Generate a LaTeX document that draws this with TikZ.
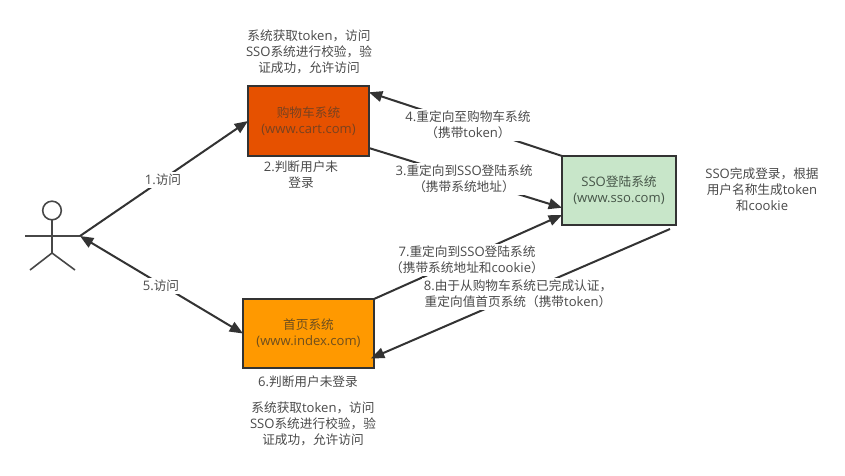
\documentclass[tikz,border=0pt]{standalone}
\usepackage{fontspec}
\setmainfont{Open Sans}
\newfontfamily\cjk[Scale=0.97]{Noto Sans CJK SC}
\newcommand{\Z}[1]{{\cjk #1}}
\usetikzlibrary{arrows.meta,calc}
\definecolor{ink}{HTML}{333333}
\definecolor{txt}{HTML}{4A4A4A}
\tikzset{
  sysbox/.style={draw=ink,line width=2.2pt,outer sep=0pt,minimum width=#1,inner sep=0pt,align=center,font=\fontsize{9.8pt}{12pt}\selectfont},
  link/.style={draw=ink,line width=1.5pt,-{Triangle[length=10pt,width=8pt]}},
  note/.style={text=txt,align=center,font=\fontsize{9.8pt}{12pt}\selectfont,inner sep=0pt},
  tag/.style={note,fill=white,inner sep=1.5pt},
  figure/.style={draw=ink!90,line width=1.2pt}
}
\begin{document}
\begin{tikzpicture}[x=0.75pt,y=-0.75pt]
\useasboundingbox[fill=white] (0,0) rectangle (845,475);
% boxes
\node[sysbox=90.75pt,minimum height=52.5pt,fill={rgb,255:red,230;green,81;blue,0},text={rgb,255:red,120;green,66;blue,32}] (cart) at (308.5,121) {\Z{购物车系统}\\(www.cart.com)};
\node[sysbox=85.5pt,minimum height=51.75pt,fill={rgb,255:red,200;green,230;blue,201},text={rgb,255:red,70;green,85;blue,72}] (sso) at (619,190.5) {SSO\Z{登陆系统}\\(www.sso.com)};
\node[sysbox=98.25pt,minimum height=51.75pt,fill={rgb,255:red,255;green,153;blue,0},text={rgb,255:red,110;green,78;blue,30}] (index) at (308.5,333.5) {\Z{首页系统}\\(www.index.com)};
% actor
\node[figure,circle,minimum size=14pt,inner sep=0pt,outer sep=0pt,fill=white] (head) at (52,210.5) {};
\coordinate (handL) at (25,236);
\coordinate (handR) at (80,236);
\coordinate (hip) at (52,253);
\coordinate (footL) at (30,270);
\coordinate (footR) at (75,270);
\draw[figure] (head.south) -- (hip);
\draw[figure] (handL) -- (handR);
\draw[figure] (footL) -- (hip) -- (footR);
% connectors
\coordinate (ssoOut) at ($(sso.south east)+(-6,4)$);
\draw[link] (handR) -- (cart.west);
\draw[link,{Triangle[length=10pt,width=8pt]}-{Triangle[length=10pt,width=8pt]}] (handR) -- (index.west);
\draw[link] (sso.north west) -- ($(cart.north east)!0.09!(cart.south east)$);
\draw[link] ($(cart.north east)!0.886!(cart.south east)$) -- ($(sso.north west)!0.75!(sso.south west)$);
\draw[link] (index.north east) -- ($(sso.north west)!0.855!(sso.south west)$);
\draw[link] (ssoOut) -- ($(index.north east)!0.86!(index.south east)+(-3,0)$);
% connector labels
\node[tag] (l1) at (163,180) {1.\Z{访问}};
\node[tag] (l5) at (161,286) {5.\Z{访问}};
\node[tag] (l4) at (468,125) {4.\Z{重定向至购物车系统}\\\Z{（携带}token\Z{）}};
\node[tag] (l3) at (464,179) {3.\Z{重定向到}SSO\Z{登陆系统}\\\Z{（携带系统地址）}};
\node[tag] (l7) at (467,260) {7.\Z{重定向到}SSO\Z{登陆系统}\\\Z{（携带系统地址和}cookie\Z{）}};
\node[tag] (l8) at (518,294) {8.\Z{由于从购物车系统已完成认证，}\\\Z{重定向值首页系统（携带}token\Z{）}};
% notes
\node[note] (n1) at (309,52) {\Z{系统获取}token\Z{，访问}\\SSO\Z{系统进行校验，验}\\\Z{证成功，允许访问}};
\node[note] (n2) at (301,175) {2.\Z{判断用户未}\\\Z{登录}};
\node[note] (n6) at (308,382) {6.\Z{判断用户未登录}};
\node[note] (n7) at (313,424) {\Z{系统获取}token\Z{，访问}\\SSO\Z{系统进行校验，验}\\\Z{证成功，允许访问}};
\node[note] (n9) at (762,190) {SSO\Z{完成登录，根据}\\\Z{用户名称生成}token\\\Z{和}cookie};
\end{tikzpicture}
\end{document}
